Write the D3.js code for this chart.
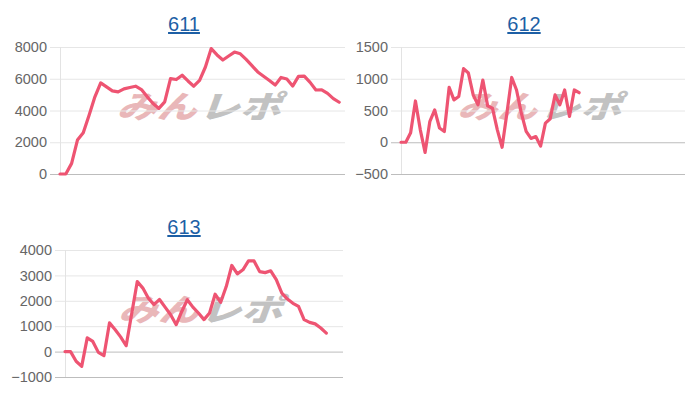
<!DOCTYPE html>
<html>
<head>
<meta charset="utf-8">
<script src="https://cdn.jsdelivr.net/npm/d3@7"></script>
<style>
  html, body { margin: 0; padding: 0; background: #fff; }
  svg { display: block; }
</style>
</head>
<body>
<svg id="chart" width="700" height="400"></svg>
<script>
// ---- data ----
const titles = ["611", "612", "613"];
const slotCount611 = 50;
const slotCount612 = 60;
const slotCount613 = 51;
const values611 = [0,0,670,2140,2600,3700,4860,5740,5490,5240,5170,5360,5450,5530,5320,4860,4440,4130,4540,6010,5950,6220,5860,5530,5900,6740,7900,7500,7180,7430,7680,7570,7220,6830,6430,6160,5890,5600,6080,5980,5540,6150,6160,5770,5290,5300,5080,4750,4520];
const values612 = [0,0,150,650,200,-160,330,510,224,170,865,667,720,1160,1090,745,590,980,573,536,200,-80,458,1020,823,458,172,60,90,-60,302,370,745,590,823,406,823,780];
const values613 = [0,0,-380,-580,540,400,-30,-160,1130,870,580,230,1500,2760,2500,2100,1850,2050,1750,1450,1060,1580,2040,1750,1520,1260,1520,2260,1940,2560,3390,3060,3220,3570,3570,3150,3110,3180,2830,2300,2070,1900,1780,1260,1150,1090,930,730];
const ticks611 = [0, 2000, 4000, 6000, 8000];
const ticks612 = [-500, 0, 500, 1000, 1500];
const ticks613 = [-1000, 0, 1000, 2000, 3000, 4000];

// ---- layout ----
const panels = [
  { title: titles[0], values: values611, count: slotCount611, ticks: ticks611,
    x0: 60, x1: 345, y0: 47, y1: 174, titleX: 184, titleY: 31 },
  { title: titles[1], values: values612, count: slotCount612, ticks: ticks612,
    x0: 401, x1: 685, y0: 47, y1: 174, titleX: 524, titleY: 31 },
  { title: titles[2], values: values613, count: slotCount613, ticks: ticks613,
    x0: 65, x1: 343, y0: 250, y1: 377, titleX: 184, titleY: 234 }
];

const svg = d3.select("#chart");
const FONT = "'Liberation Sans', Arial, Helvetica, sans-serif";

panels.forEach(p => {
  const g = svg.append("g");
  const x = d3.scalePoint().domain(d3.range(p.count)).range([p.x0, p.x1]);
  const y = d3.scaleLinear()
    .domain([p.ticks[0], p.ticks[p.ticks.length - 1]])
    .range([p.y1, p.y0]);

  // title (underlined link style)
  g.append("text")
    .attr("x", p.titleX).attr("y", p.titleY)
    .attr("text-anchor", "middle")
    .attr("font-family", FONT).attr("font-size", 20)
    .attr("fill", "#1d5fa5")
    .attr("text-decoration", "underline")
    .text(p.title);

  // watermark
  const cx = (p.x0 + p.x1) / 2 - 1;
  const cy = (p.y0 + p.y1) / 2 - 6;
  const wm = g.append("g").attr("transform", `translate(${cx},${cy}) scale(1,0.78) skewX(-16)`);
  wm.append("text")
    .attr("x", 0).attr("y", 0)
    .attr("text-anchor", "end").attr("dominant-baseline", "central")
    .attr("font-family", "'Noto Sans CJK JP', sans-serif")
    .attr("font-weight", 900).attr("font-size", 40)
    .attr("fill", "#e9b7b9")
    .attr("textLength", 80).attr("lengthAdjust", "spacingAndGlyphs")
    .text("みん");
  wm.append("text")
    .attr("x", 2).attr("y", 0)
    .attr("text-anchor", "start").attr("dominant-baseline", "central")
    .attr("font-family", "'Noto Sans CJK JP', sans-serif")
    .attr("font-weight", 900).attr("font-size", 40)
    .attr("fill", "#c2c2c2")
    .attr("textLength", 82).attr("lengthAdjust", "spacingAndGlyphs")
    .text("レポ");

  // y axis tick labels
  const yAxis = d3.axisLeft(y).tickValues(p.ticks).tickSize(0).tickPadding(13)
    .tickFormat(d3.format("d"));
  const ag = g.append("g").attr("transform", `translate(${p.x0},0)`).call(yAxis);
  ag.select(".domain").remove();
  ag.selectAll("text")
    .attr("font-family", FONT).attr("font-size", 14.5).attr("fill", "#666");

  // grid lines
  g.append("g").selectAll("line").data(p.ticks).join("line")
    .attr("x1", p.x0 - 10).attr("x2", p.x1)
    .attr("y1", d => y(d) + 0.5).attr("y2", d => y(d) + 0.5)
    .attr("stroke", d => (d === 0 || d === p.ticks[0]) ? "#bdbdbd" : "#e6e6e6")
    .attr("stroke-width", 1);

  // left axis line
  g.append("line")
    .attr("x1", p.x0 + 0.5).attr("x2", p.x0 + 0.5)
    .attr("y1", p.y0).attr("y2", p.y1)
    .attr("stroke", "#e3e3e3");

  // data line
  const line = d3.line().x((d, i) => x(i)).y(d => y(d));
  g.append("path")
    .datum(p.values)
    .attr("d", line)
    .attr("fill", "none")
    .attr("stroke", "#ee5472")
    .attr("stroke-width", 3.2)
    .attr("stroke-linejoin", "round")
    .attr("stroke-linecap", "round");
});
</script>
</body>
</html>
